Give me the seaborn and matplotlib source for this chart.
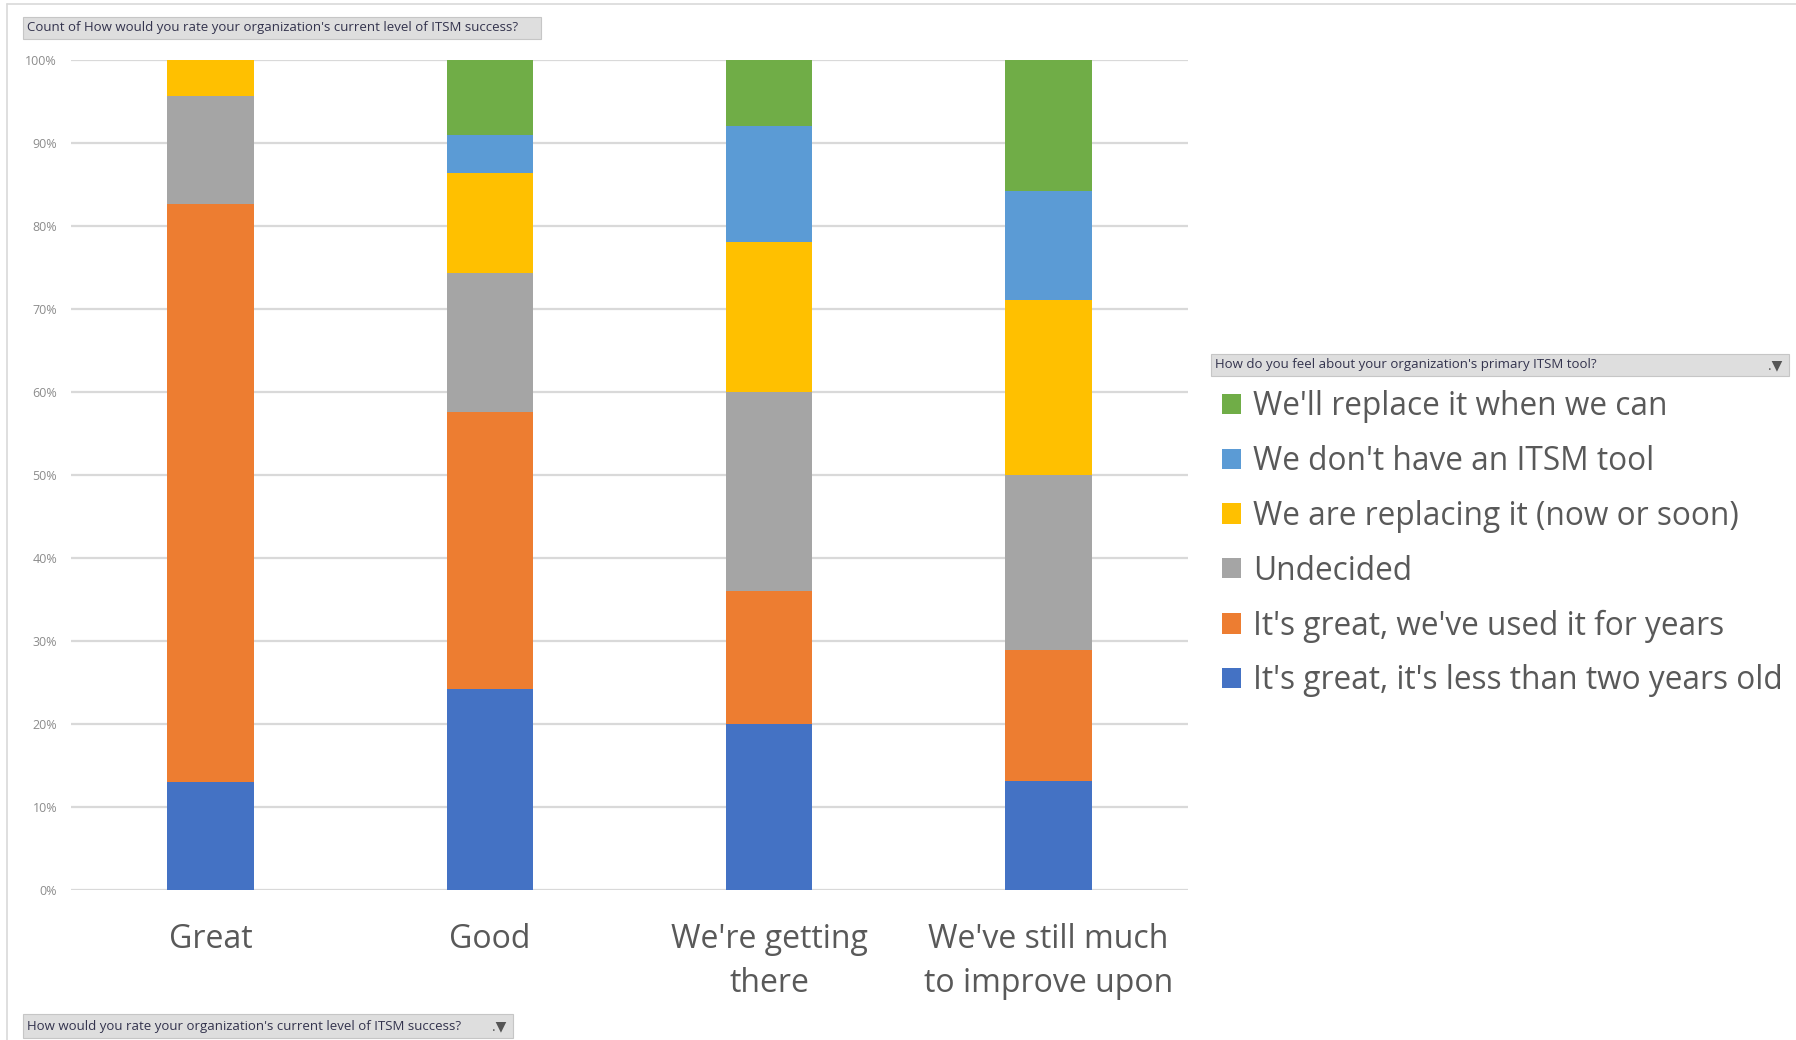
import matplotlib
matplotlib.use("Agg")
import matplotlib.pyplot as plt
from matplotlib.patches import Rectangle, Patch
from matplotlib.lines import Line2D
import seaborn as sns
import pandas as pd
import numpy as np

categories = ["Great", "Good", "We're getting\nthere", "We've still much\nto improve upon"]
series_names = [
    "It's great, it's less than two years old",
    "It's great, we've used it for years",
    "Undecided",
    "We are replacing it (now or soon)",
    "We don't have an ITSM tool",
    "We'll replace it when we can",
]
less_than_two = [3, 16, 10, 5]
used_for_years = [16, 22, 8, 6]
undecided = [3, 11, 12, 8]
replacing_now = [1, 8, 9, 8]
no_itsm_tool = [0, 3, 7, 5]
replace_when_can = [0, 6, 4, 6]
colors = ["#4472C4", "#ED7D31", "#A5A5A5", "#FFC000", "#5B9BD5", "#70AD47"]
y_ticks = [0, 10, 20, 30, 40, 50, 60, 70, 80, 90, 100]
y_tick_labels = [f"{t}%" for t in y_ticks]

sns.set_theme(style="white")
plt.rcParams["font.family"] = ["Open Sans", "DejaVu Sans"]

counts = np.array([less_than_two, used_for_years, undecided, replacing_now,
                   no_itsm_tool, replace_when_can], dtype=float)
pct = counts / counts.sum(axis=0) * 100
cum = np.cumsum(pct, axis=0)

fig = plt.figure(figsize=(17.96, 10.40), dpi=100)
ax = fig.add_axes([0.0395, 0.1442, 0.622, 0.7985])

for i in range(len(series_names) - 1, -1, -1):
    df = pd.DataFrame({"cat": categories, "val": cum[i]})
    sns.barplot(data=df, x="cat", y="val", order=categories, color=colors[i],
                saturation=1, width=0.31, ax=ax, linewidth=0, zorder=3)

ax.set_xlim(-0.5, 3.5)
ax.set_ylim(0, 100)
ax.set_yticks(y_ticks)
ax.set_yticklabels(y_tick_labels, fontsize=9, color="#8c8c8c")
ax.grid(axis="y", color="#d9d9d9", linewidth=1.6, zorder=0)
ax.set_axisbelow(True)
for s in ax.spines.values():
    s.set_visible(False)
ax.tick_params(axis="y", length=0, pad=10)
ax.tick_params(axis="x", length=0, pad=24)
ax.set_xticklabels(categories, fontsize=23, color="#595959", linespacing=1.43)
ax.set_xlabel("")
ax.set_ylabel("")

handles = [Patch(facecolor=colors[i], edgecolor="none", label=series_names[i])
           for i in range(len(series_names) - 1, -1, -1)]
leg = ax.legend(handles=handles, loc="upper left", bbox_to_anchor=(0.6805, 0.625),
                bbox_transform=fig.transFigure, frameon=False, fontsize=22.8,
                handlelength=0.6, handleheight=0.6, handletextpad=0.38,
                labelspacing=0.69, borderpad=0, borderaxespad=0)
for t in leg.get_texts():
    t.set_color("#595959")

# pivot-field header boxes
def header(x0, y0, w, h, text, funnel=False):
    fig.patches.append(Rectangle((x0, y0), w, h, transform=fig.transFigure,
                                 facecolor="#dedede", edgecolor="#c6c6c6",
                                 linewidth=0.8, zorder=5))
    fig.text(x0 + 0.002, y0 + h / 2, text, fontsize=9.5, color="#33334d",
             va="center", ha="left", zorder=6)
    if funnel:
        fig.text(x0 + w - 0.004, y0 + h / 2 - 0.001, ".\u25BC", fontsize=10,
                 color="#555555", va="center", ha="right", zorder=6)

header(0.0128, 0.9625, 0.2884, 0.0212,
       "Count of How would you rate your organization's current level of ITSM success?")
header(0.6743, 0.6385, 0.3218, 0.0212,
       "How do you feel about your organization's primary ITSM tool?", funnel=True)
header(0.0128, 0.0019, 0.2728, 0.0230,
       "How would you rate your organization's current level of ITSM success?", funnel=True)

# outer chart-area border (top and left)
fig.add_artist(Line2D([0.0039, 1.0], [0.9962, 0.9962], transform=fig.transFigure,
                      color="#d9d9d9", linewidth=1.2))
fig.add_artist(Line2D([0.0039, 0.0039], [0.0, 0.9962], transform=fig.transFigure,
                      color="#d9d9d9", linewidth=1.2))

fig.savefig("out.png", dpi=100, facecolor="white")
